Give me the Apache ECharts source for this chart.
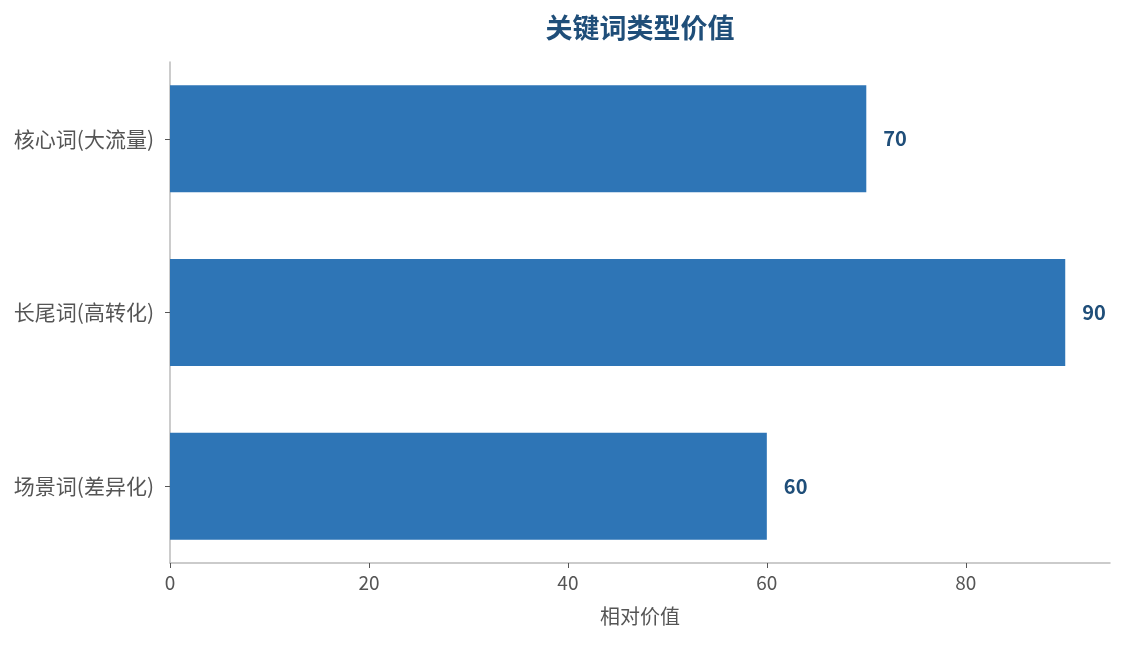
<!DOCTYPE html>
<html>
<head>
<meta charset="utf-8">
<script src="https://cdn.jsdelivr.net/npm/echarts@6/dist/echarts.min.js"></script>
<style>
html,body{margin:0;padding:0;background:#fff;}
#chart{width:1124px;height:645px;}
</style>
</head>
<body>
<div id="chart"></div>
<script>
var categories = ['核心词(大流量)', '长尾词(高转化)', '场景词(差异化)'];
var values = [70, 90, 60];
var xTicks = [0, 20, 40, 60, 80];
var titleText = '关键词类型价值';
var xAxisName = '相对价值';

var chart = echarts.init(document.getElementById('chart'));
var font = '"Noto Sans CJK SC", "Noto Sans", sans-serif';
var xMax = 94.5;
chart.setOption({
  backgroundColor: '#ffffff',
  animation: false,
  title: {
    text: titleText,
    left: 635,
    top: 9,
    textAlign: 'center',
    textStyle: { fontFamily: font, fontSize: 27, fontWeight: 'bold', color: '#1f4e79' }
  },
  grid: [
    { left: 170, right: 14, top: 62, bottom: 82, containLabel: false },
    { left: 170, right: 14, top: 52, bottom: 72, containLabel: false }
  ],
  xAxis: [{
    gridIndex: 0,
    type: 'value',
    min: 0,
    max: xMax,
    interval: 20,
    name: xAxisName,
    nameLocation: 'middle',
    nameGap: 43,
    nameTextStyle: { fontFamily: font, fontSize: 20, color: '#555' },
    axisLine: { show: true, lineStyle: { color: '#bbb', width: 1.5 } },
    axisTick: { show: true, length: 5, customValues: xTicks, lineStyle: { color: '#555' } },
    axisLabel: {
      fontFamily: font, fontSize: 19, color: '#555', margin: 10,
      customValues: xTicks,
      formatter: function (v) { return String(v); }
    },
    splitLine: { show: false }
  }, {
    gridIndex: 1,
    type: 'value',
    min: 0,
    max: xMax,
    show: false
  }],
  yAxis: [{
    gridIndex: 0,
    type: 'value',
    axisLine: { show: true, lineStyle: { color: '#bbb', width: 1.5 } },
    axisTick: { show: false },
    axisLabel: { show: false },
    splitLine: { show: false }
  }, {
    gridIndex: 1,
    type: 'category',
    data: categories,
    inverse: true,
    axisLine: { show: false },
    axisTick: { show: true, length: 5, alignWithLabel: true, lineStyle: { color: '#555' } },
    axisLabel: { fontFamily: font, fontSize: 21, color: '#555', margin: 16 }
  }],
  series: [{
    type: 'bar',
    xAxisIndex: 1,
    yAxisIndex: 1,
    data: values,
    barWidth: 107,
    itemStyle: { color: '#2e75b6' },
    label: {
      show: true,
      position: 'right',
      distance: 17,
      fontFamily: font,
      fontSize: 20,
      fontWeight: 'bold',
      color: '#1f4e79'
    }
  }]
});
</script>
</body>
</html>
